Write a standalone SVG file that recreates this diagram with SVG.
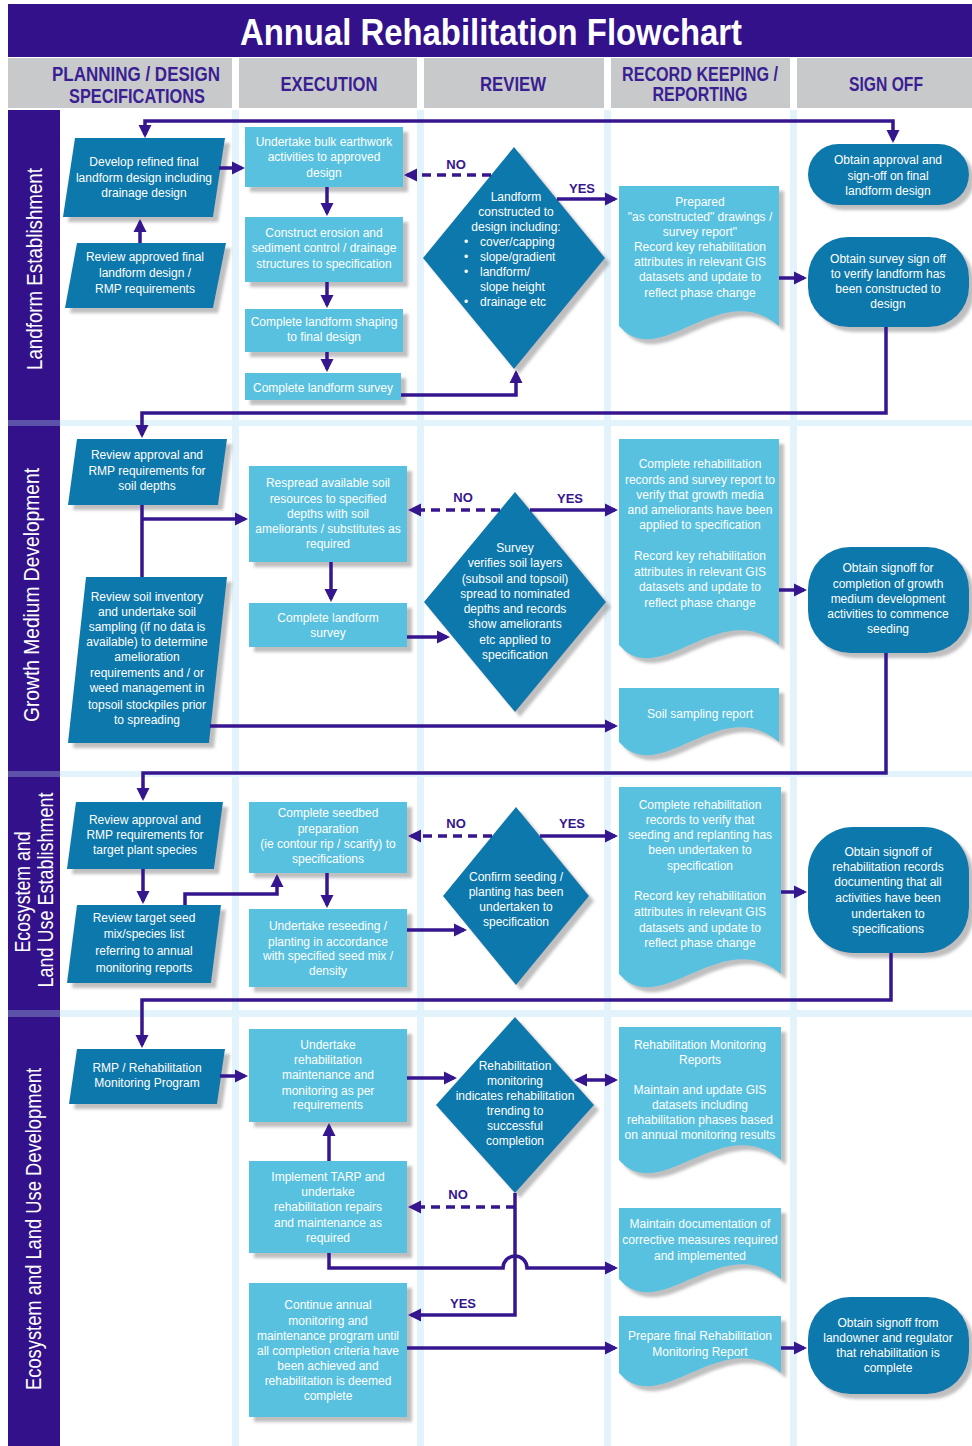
<svg xmlns="http://www.w3.org/2000/svg" width="972" height="1446" viewBox="0 0 972 1446">
<defs>
<style>
.t{font-family:"Liberation Sans",Arial,sans-serif;font-size:12px;fill:#fff;text-anchor:middle}
.tl{text-anchor:start}
.hd{font-family:"Liberation Sans",Arial,sans-serif;font-size:20px;font-weight:bold;fill:#3a1f92;text-anchor:middle}
.ln{font-family:"Liberation Sans",Arial,sans-serif;font-size:22px;fill:#fff;text-anchor:middle}
.yn{font-family:"Liberation Sans",Arial,sans-serif;font-size:13px;font-weight:bold;fill:#36168f;text-anchor:middle}
.dk{fill:#0f78ab}
.lt{fill:#59c1e0}
.c{fill:none;stroke:#36168f;stroke-width:3.5}
.a{marker-end:url(#ah)}
.aa{marker-start:url(#ah);marker-end:url(#ah)}
.d{stroke-dasharray:9 6}
.band{fill:#e2f3fc}
.hc{fill:#c8c9cb}
</style>
<marker id="ah" viewBox="0 -7 13 14" refX="10" refY="0" markerWidth="13" markerHeight="14" markerUnits="userSpaceOnUse" orient="auto-start-reverse"><path d="M0,-6.5 L13,0 L0,6.5 Z" fill="#36168f"/></marker>
<filter id="sh" x="-10%" y="-10%" width="130%" height="130%"><feDropShadow dx="5" dy="5" stdDeviation="1.5" flood-color="#8a8a8a" flood-opacity="0.55"/></filter>
</defs>
<rect x="0" y="0" width="972" height="1446" fill="#fff"/>
<g id="title">
<rect x="8" y="4" width="964" height="53" fill="#33118a"/>
<text x="491" y="45" font-family="Liberation Sans, Arial, sans-serif" font-size="36" font-weight="bold" fill="#fff" text-anchor="middle" textLength="502" lengthAdjust="spacingAndGlyphs">Annual Rehabilitation Flowchart</text>
</g>
<g id="headers">
<rect class="hc" x="8" y="58" width="224" height="50"/>
<rect class="hc" x="239" y="58" width="178" height="50"/>
<rect class="hc" x="424" y="58" width="180" height="50"/>
<rect class="hc" x="611" y="58" width="179" height="50"/>
<rect class="hc" x="797" y="58" width="175" height="50"/>
<text class="hd" x="136" y="81" textLength="168" lengthAdjust="spacingAndGlyphs">PLANNING / DESIGN</text>
<text class="hd" x="137" y="103" textLength="136" lengthAdjust="spacingAndGlyphs">SPECIFICATIONS</text>
<text class="hd" x="329" y="91" textLength="97" lengthAdjust="spacingAndGlyphs">EXECUTION</text>
<text class="hd" x="513" y="91" textLength="66" lengthAdjust="spacingAndGlyphs">REVIEW</text>
<text class="hd" x="700" y="81" textLength="156" lengthAdjust="spacingAndGlyphs">RECORD KEEPING /</text>
<text class="hd" x="700" y="101" textLength="95" lengthAdjust="spacingAndGlyphs">REPORTING</text>
<text class="hd" x="886" y="91" textLength="74" lengthAdjust="spacingAndGlyphs">SIGN OFF</text>
</g>
<g id="lanes">
<rect x="8" y="110" width="52" height="1336" fill="#33118a"/>
<rect class="band" x="232" y="110" width="7" height="1336"/>
<rect class="band" x="417" y="110" width="7" height="1336"/>
<rect class="band" x="604" y="110" width="7" height="1336"/>
<rect class="band" x="790" y="110" width="7" height="1336"/>
<rect class="band" x="60" y="420" width="912" height="6"/>
<rect class="band" x="60" y="771" width="912" height="6"/>
<rect class="band" x="60" y="1010" width="912" height="7"/>
<rect x="8" y="420" width="52" height="6" fill="#5c52aa"/>
<rect x="8" y="771" width="52" height="6" fill="#5c52aa"/>
<rect x="8" y="1010" width="52" height="7" fill="#5c52aa"/>
<text class="ln" transform="translate(42,269) rotate(-90)" textLength="202" lengthAdjust="spacingAndGlyphs">Landform Establishment</text>
<text class="ln" transform="translate(39,595) rotate(-90)" textLength="254" lengthAdjust="spacingAndGlyphs">Growth Medium Development</text>
<text class="ln" transform="translate(30,892) rotate(-90)" textLength="121" lengthAdjust="spacingAndGlyphs">Ecosystem and</text>
<text class="ln" transform="translate(53,890) rotate(-90)" textLength="195" lengthAdjust="spacingAndGlyphs">Land Use Establishment</text>
<text class="ln" transform="translate(41,1229) rotate(-90)" textLength="322" lengthAdjust="spacingAndGlyphs">Ecosystem and Land Use Development</text>
</g>

<!-- Lane 1 -->
<g id="develop-design">
<polygon class="dk" filter="url(#sh)" points="75,138 225,138 213,217 63,217"/>
<text class="t" x="144" y="166">Develop refined final</text>
<text class="t" x="144" y="182">landform design including</text>
<text class="t" x="144" y="197">drainage design</text>
</g>
<g id="review-landform">
<polygon class="dk" filter="url(#sh)" points="77,243 226,243 213,308 65,308"/>
<text class="t" x="145" y="261">Review approved final</text>
<text class="t" x="145" y="277">landform design /</text>
<text class="t" x="145" y="293">RMP requirements</text>
</g>
<g id="bulk-earthwork">
<rect class="lt" filter="url(#sh)" x="245" y="127" width="158" height="60"/>
<text class="t" x="324" y="146">Undertake bulk earthwork</text>
<text class="t" x="324" y="161">activities to approved</text>
<text class="t" x="324" y="177">design</text>
</g>
<g id="erosion-control">
<rect class="lt" filter="url(#sh)" x="245" y="217" width="158" height="65"/>
<text class="t" x="324" y="237">Construct erosion and</text>
<text class="t" x="324" y="252">sediment control / drainage</text>
<text class="t" x="324" y="268">structures to specification</text>
</g>
<g id="landform-shaping">
<rect class="lt" filter="url(#sh)" x="245" y="309" width="158" height="43"/>
<text class="t" x="324" y="326">Complete landform shaping</text>
<text class="t" x="324" y="341">to final design</text>
</g>
<g id="landform-survey-1">
<rect class="lt" filter="url(#sh)" x="245" y="373" width="156" height="27"/>
<text class="t" x="323" y="392">Complete landform survey</text>
</g>
<g id="landform-decision">
<polygon class="dk" filter="url(#sh)" points="514,147 605,258 514,369 423,258"/>
<text class="t" x="516" y="201">Landform</text>
<text class="t" x="516" y="216">constructed to</text>
<text class="t" x="516" y="231">design including:</text>
<text class="t" x="466" y="246">•</text><text class="t tl" x="480" y="246">cover/capping</text>
<text class="t" x="466" y="261">•</text><text class="t tl" x="480" y="261">slope/gradient</text>
<text class="t" x="466" y="276">•</text><text class="t tl" x="480" y="276">landform/</text>
<text class="t tl" x="480" y="291">slope height</text>
<text class="t" x="466" y="306">•</text><text class="t tl" x="480" y="306">drainage etc</text>
</g>
<g id="as-constructed-doc">
<path class="lt" filter="url(#sh)" d="M619,186 H779 V326 C720,276 660,373 619,326 Z"/>
<text class="t" x="700" y="206">Prepared</text>
<text class="t" x="700" y="221">"as constructed" drawings /</text>
<text class="t" x="700" y="236">survey report"</text>
<text class="t" x="700" y="251">Record key rehabilitation</text>
<text class="t" x="700" y="266">attributes in relevant GIS</text>
<text class="t" x="700" y="281">datasets and update to</text>
<text class="t" x="700" y="297">reflect phase change</text>
</g>
<g id="approval-signoff">
<rect class="dk" filter="url(#sh)" x="808" y="144" width="161" height="61" rx="30.5"/>
<text class="t" x="888" y="164">Obtain approval and</text>
<text class="t" x="888" y="180">sign-off on final</text>
<text class="t" x="888" y="195">landform design</text>
</g>
<g id="survey-signoff">
<rect class="dk" filter="url(#sh)" x="808" y="237" width="161" height="90" rx="40"/>
<text class="t" x="888" y="263">Obtain survey sign off</text>
<text class="t" x="888" y="278">to verify landform has</text>
<text class="t" x="888" y="293">been constructed to</text>
<text class="t" x="888" y="308">design</text>
</g>

<!-- Lane 2 -->
<g id="review-soil-depths">
<polygon class="dk" filter="url(#sh)" points="77,439 227,439 218,505 68,505"/>
<text class="t" x="147" y="459">Review approval and</text>
<text class="t" x="147" y="475">RMP requirements for</text>
<text class="t" x="147" y="490">soil depths</text>
</g>
<g id="review-soil-inventory">
<polygon class="dk" filter="url(#sh)" points="86,577 227,577 209,743 68,743"/>
<text class="t" x="147" y="601">Review soil inventory</text>
<text class="t" x="147" y="616">and undertake soil</text>
<text class="t" x="147" y="631">sampling (if no data is</text>
<text class="t" x="147" y="646">available) to determine</text>
<text class="t" x="147" y="661">amelioration</text>
<text class="t" x="147" y="677">requirements and / or</text>
<text class="t" x="147" y="692">weed management in</text>
<text class="t" x="147" y="709">topsoil stockpiles prior</text>
<text class="t" x="147" y="724">to spreading</text>
</g>
<g id="respread-soil">
<rect class="lt" filter="url(#sh)" x="249" y="466" width="158" height="96"/>
<text class="t" x="328" y="487">Respread available soil</text>
<text class="t" x="328" y="503">resources to specified</text>
<text class="t" x="328" y="518">depths with soil</text>
<text class="t" x="328" y="533">ameliorants / substitutes as</text>
<text class="t" x="328" y="548">required</text>
</g>
<g id="landform-survey-2">
<rect class="lt" filter="url(#sh)" x="249" y="603" width="158" height="44"/>
<text class="t" x="328" y="622">Complete landform</text>
<text class="t" x="328" y="637">survey</text>
</g>
<g id="soil-decision">
<polygon class="dk" filter="url(#sh)" points="515,492 606,602 515,712 424,602"/>
<text class="t" x="515" y="552">Survey</text>
<text class="t" x="515" y="567">verifies soil layers</text>
<text class="t" x="515" y="583">(subsoil and topsoil)</text>
<text class="t" x="515" y="598">spread to nominated</text>
<text class="t" x="515" y="613">depths and records</text>
<text class="t" x="515" y="628">show ameliorants</text>
<text class="t" x="515" y="644">etc applied to</text>
<text class="t" x="515" y="659">specification</text>
</g>
<g id="growth-records-doc">
<path class="lt" filter="url(#sh)" d="M619,439 H779 V645 C720,595 660,692 619,645 Z"/>
<text class="t" x="700" y="468">Complete rehabilitation</text>
<text class="t" x="700" y="484">records and survey report to</text>
<text class="t" x="700" y="499">verify that growth media</text>
<text class="t" x="700" y="514">and ameliorants have been</text>
<text class="t" x="700" y="529">applied to specification</text>
<text class="t" x="700" y="560">Record key rehabilitation</text>
<text class="t" x="700" y="576">attributes in relevant GIS</text>
<text class="t" x="700" y="591">datasets and update to</text>
<text class="t" x="700" y="607">reflect phase change</text>
</g>
<g id="soil-sampling-doc">
<path class="lt" filter="url(#sh)" d="M619,688 H779 V742 C720,692 660,789 619,742 Z"/>
<text class="t" x="700" y="718">Soil sampling report</text>
</g>
<g id="growth-signoff">
<rect class="dk" filter="url(#sh)" x="808" y="547" width="161" height="106" rx="42"/>
<text class="t" x="888" y="572">Obtain signoff for</text>
<text class="t" x="888" y="588">completion of growth</text>
<text class="t" x="888" y="603">medium development</text>
<text class="t" x="888" y="618">activities to commence</text>
<text class="t" x="888" y="633">seeding</text>
</g>

<!-- Lane 3 -->
<g id="review-plant-species">
<polygon class="dk" filter="url(#sh)" points="76,802 223,802 214,869 67,869"/>
<text class="t" x="145" y="824">Review approval and</text>
<text class="t" x="145" y="839">RMP requirements for</text>
<text class="t" x="145" y="854">target plant species</text>
</g>
<g id="review-seed-mix">
<polygon class="dk" filter="url(#sh)" points="77,905 221,905 211,983 67,983"/>
<text class="t" x="144" y="922">Review target seed</text>
<text class="t" x="144" y="938">mix/species list</text>
<text class="t" x="144" y="955">referring to annual</text>
<text class="t" x="144" y="972">monitoring reports</text>
</g>
<g id="seedbed-prep">
<rect class="lt" filter="url(#sh)" x="249" y="802" width="158" height="71"/>
<text class="t" x="328" y="817">Complete seedbed</text>
<text class="t" x="328" y="833">preparation</text>
<text class="t" x="328" y="848">(ie contour rip / scarify) to</text>
<text class="t" x="328" y="863">specifications</text>
</g>
<g id="reseeding">
<rect class="lt" filter="url(#sh)" x="249" y="909" width="158" height="78"/>
<text class="t" x="328" y="930">Undertake reseeding /</text>
<text class="t" x="328" y="946">planting in accordance</text>
<text class="t" x="328" y="960">with specified seed mix /</text>
<text class="t" x="328" y="975">density</text>
</g>
<g id="seeding-decision">
<polygon class="dk" filter="url(#sh)" points="516,807 589,896 516,985 443,896"/>
<text class="t" x="516" y="881">Confirm seeding /</text>
<text class="t" x="516" y="896">planting has been</text>
<text class="t" x="516" y="911">undertaken to</text>
<text class="t" x="516" y="926">specification</text>
</g>
<g id="seeding-records-doc">
<path class="lt" filter="url(#sh)" d="M619,787 H781 V974 C722,924 660,1021 619,974 Z"/>
<text class="t" x="700" y="809">Complete rehabilitation</text>
<text class="t" x="700" y="824">records to verify that</text>
<text class="t" x="700" y="839">seeding and replanting has</text>
<text class="t" x="700" y="854">been undertaken to</text>
<text class="t" x="700" y="870">specification</text>
<text class="t" x="700" y="900">Record key rehabilitation</text>
<text class="t" x="700" y="916">attributes in relevant GIS</text>
<text class="t" x="700" y="932">datasets and update to</text>
<text class="t" x="700" y="947">reflect phase change</text>
</g>
<g id="records-signoff">
<rect class="dk" filter="url(#sh)" x="808" y="827" width="161" height="126" rx="45"/>
<text class="t" x="888" y="856">Obtain signoff of</text>
<text class="t" x="888" y="871">rehabilitation records</text>
<text class="t" x="888" y="886">documenting that all</text>
<text class="t" x="888" y="902">activities have been</text>
<text class="t" x="888" y="918">undertaken to</text>
<text class="t" x="888" y="933">specifications</text>
</g>

<!-- Lane 4 -->
<g id="rmp-program">
<polygon class="dk" filter="url(#sh)" points="77,1049 225,1049 217,1104 69,1104"/>
<text class="t" x="147" y="1072">RMP / Rehabilitation</text>
<text class="t" x="147" y="1087">Monitoring Program</text>
</g>
<g id="maintenance-monitoring">
<rect class="lt" filter="url(#sh)" x="249" y="1029" width="158" height="93"/>
<text class="t" x="328" y="1049">Undertake</text>
<text class="t" x="328" y="1064">rehabilitation</text>
<text class="t" x="328" y="1079">maintenance and</text>
<text class="t" x="328" y="1095">monitoring as per</text>
<text class="t" x="328" y="1109">requirements</text>
</g>
<g id="implement-tarp">
<rect class="lt" filter="url(#sh)" x="249" y="1161" width="158" height="92"/>
<text class="t" x="328" y="1181">Implement TARP and</text>
<text class="t" x="328" y="1196">undertake</text>
<text class="t" x="328" y="1211">rehabilitation repairs</text>
<text class="t" x="328" y="1227">and maintenance as</text>
<text class="t" x="328" y="1242">required</text>
</g>
<g id="continue-monitoring">
<rect class="lt" filter="url(#sh)" x="249" y="1283" width="158" height="134"/>
<text class="t" x="328" y="1309">Continue annual</text>
<text class="t" x="328" y="1325">monitoring and</text>
<text class="t" x="328" y="1340">maintenance program until</text>
<text class="t" x="328" y="1355">all completion criteria have</text>
<text class="t" x="328" y="1370">been achieved and</text>
<text class="t" x="328" y="1385">rehabilitation is deemed</text>
<text class="t" x="328" y="1400">complete</text>
</g>
<g id="monitoring-decision">
<polygon class="dk" filter="url(#sh)" points="515,1017 594,1105 515,1193 436,1105"/>
<text class="t" x="515" y="1070">Rehabilitation</text>
<text class="t" x="515" y="1085">monitoring</text>
<text class="t" x="515" y="1100">indicates rehabilitation</text>
<text class="t" x="515" y="1115">trending to</text>
<text class="t" x="515" y="1130">successful</text>
<text class="t" x="515" y="1145">completion</text>
</g>
<g id="monitoring-reports-doc">
<path class="lt" filter="url(#sh)" d="M619,1027 H781 V1160 C722,1110 660,1207 619,1160 Z"/>
<text class="t" x="700" y="1049">Rehabilitation Monitoring</text>
<text class="t" x="700" y="1064">Reports</text>
<text class="t" x="700" y="1094">Maintain and update GIS</text>
<text class="t" x="700" y="1109">datasets including</text>
<text class="t" x="700" y="1124">rehabilitation phases based</text>
<text class="t" x="700" y="1139">on annual monitoring results</text>
</g>
<g id="corrective-doc">
<path class="lt" filter="url(#sh)" d="M619,1208 H781 V1279 C722,1229 660,1326 619,1279 Z"/>
<text class="t" x="700" y="1228">Maintain documentation of</text>
<text class="t" x="700" y="1244">corrective measures required</text>
<text class="t" x="700" y="1260">and implemented</text>
</g>
<g id="final-report-doc">
<path class="lt" filter="url(#sh)" d="M619,1316 H781 V1373 C722,1323 660,1420 619,1373 Z"/>
<text class="t" x="700" y="1340">Prepare final Rehabilitation</text>
<text class="t" x="700" y="1356">Monitoring Report</text>
</g>
<g id="final-signoff">
<rect class="dk" filter="url(#sh)" x="808" y="1297" width="161" height="97" rx="42"/>
<text class="t" x="888" y="1327">Obtain signoff from</text>
<text class="t" x="888" y="1342">landowner and regulator</text>
<text class="t" x="888" y="1357">that rehabilitation is</text>
<text class="t" x="888" y="1372">complete</text>
</g>

<g id="connectors">
<path class="c aa" d="M145,135 V121 H893 V140"/>
<path class="c a" d="M140,243 V222"/>
<path class="c a" d="M219,168 H242"/>
<path class="c a" d="M327,187 V213"/>
<path class="c a" d="M327,282 V305"/>
<path class="c a" d="M327,352 V369"/>
<path class="c a" d="M401,395 H516 V373"/>
<path class="c a d" d="M491,175 H407"/>
<path class="c a" d="M557,199 H615"/>
<path class="c a" d="M779,278 H804"/>
<path class="c a" d="M886,327 V413 H142 V435"/>
<path class="c" d="M142,505 V577"/>
<path class="c a" d="M142,519 H245"/>
<path class="c a" d="M210,726 H615"/>
<path class="c a" d="M331,562 V599"/>
<path class="c a" d="M407,637 H447"/>
<path class="c a d" d="M500,510 H411"/>
<path class="c a" d="M530,510 H615"/>
<path class="c a" d="M779,590 H804"/>
<path class="c a" d="M886,653 V773 H143 V798"/>
<path class="c a" d="M143,869 V901"/>
<path class="c a" d="M185,905 V894 H277 V877"/>
<path class="c a" d="M327,873 V905"/>
<path class="c a" d="M407,930 H464"/>
<path class="c a d" d="M492,836 H411"/>
<path class="c a" d="M540,836 H615"/>
<path class="c a" d="M781,892 H804"/>
<path class="c a" d="M891,953 V1000 H142 V1045"/>
<path class="c a" d="M220,1076 H245"/>
<path class="c a" d="M407,1078 H454"/>
<path class="c aa" d="M577,1080 H615"/>
<path class="c a" d="M515,1193 V1315 H411"/>
<path class="c a d" d="M515,1207 H411"/>
<path class="c a" d="M329,1161 V1126"/>
<path class="c a" d="M329,1253 V1268 H503 A12,12 0 0 1 527,1268 H615"/>
<path class="c a" d="M407,1348 H615"/>
<path class="c a" d="M781,1348 H804"/>
<text class="yn" x="456" y="169">NO</text>
<text class="yn" x="582" y="193">YES</text>
<text class="yn" x="463" y="502">NO</text>
<text class="yn" x="570" y="503">YES</text>
<text class="yn" x="456" y="828">NO</text>
<text class="yn" x="572" y="828">YES</text>
<text class="yn" x="458" y="1199">NO</text>
<text class="yn" x="463" y="1308">YES</text>
</g>
</svg>
